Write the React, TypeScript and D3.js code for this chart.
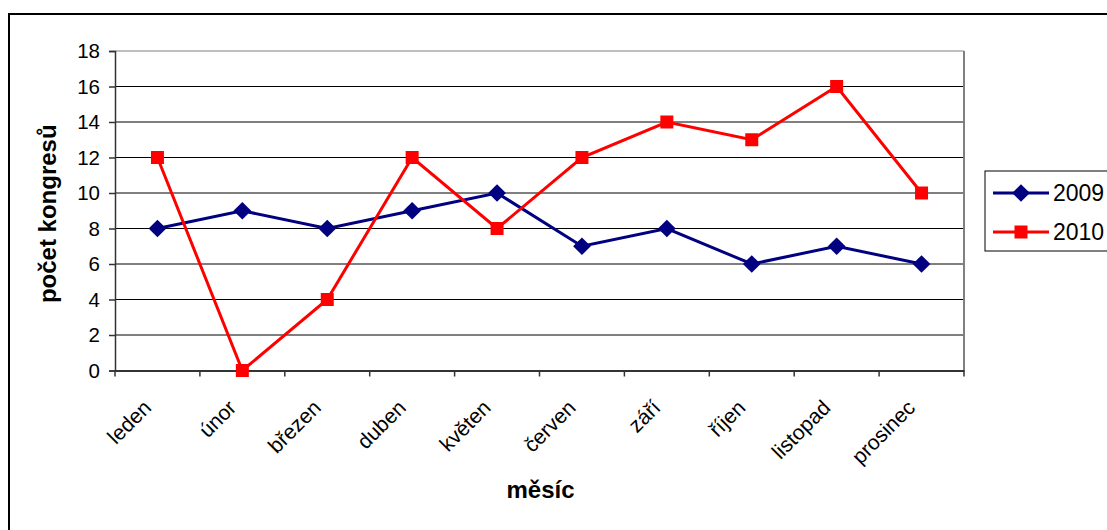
import { useEffect, useRef } from 'react';
import * as d3 from 'd3';

const MONTHS = ['leden', 'únor', 'březen', 'duben', 'květen', 'červen', 'září', 'říjen', 'listopad', 'prosinec'];
const SERIES_2009 = [8, 9, 8, 9, 10, 7, 8, 6, 7, 6];
const SERIES_2010 = [12, 0, 4, 12, 8, 12, 14, 13, 16, 10];
const Y_TICKS = [0, 2, 4, 6, 8, 10, 12, 14, 16, 18];

const FONT = "'Liberation Sans', Arial, sans-serif";
const NAVY = '#000080';
const RED = '#FF0000';

export default function App() {
  const svgRef = useRef<SVGSVGElement>(null);

  useEffect(() => {
    const el = svgRef.current;
    if (!el) return;
    const svg = d3.select(el);
    svg.selectAll('*').remove();

    const W = 1107;
    const H = 530;
    const plot = { left: 115, top: 51, right: 964, bottom: 370.5 };

    // outer chart frame
    svg.append('rect')
      .attr('x', 9).attr('y', 14)
      .attr('width', W + 20).attr('height', H + 20)
      .attr('fill', '#fff').attr('stroke', '#000').attr('stroke-width', 2);

    const x = d3.scaleBand().domain(MONTHS).range([plot.left, plot.right]);
    const y = d3.scaleLinear().domain([0, 18]).range([plot.bottom, plot.top]);
    const cx = (m: string) => (x(m) || 0) + x.bandwidth() / 2;

    // grid lines
    svg.append('g').selectAll('line').data(Y_TICKS.filter((t) => t > 0)).join('line')
      .attr('x1', plot.left).attr('x2', plot.right)
      .attr('y1', (d) => y(d)).attr('y2', (d) => y(d))
      .attr('stroke', (d) => (d === 18 ? '#808080' : '#000'))
      .attr('stroke-width', 1);

    // plot area right border
    svg.append('line')
      .attr('x1', plot.right).attr('x2', plot.right)
      .attr('y1', plot.top).attr('y2', plot.bottom)
      .attr('stroke', '#808080').attr('stroke-width', 2);

    // y axis
    const yAxis = svg.append('g').attr('transform', `translate(${plot.left},0)`)
      .call(d3.axisLeft(y).tickValues(Y_TICKS).tickSize(6).tickPadding(9));
    yAxis.select('.domain').attr('stroke', '#333').attr('stroke-width', 1.5);
    yAxis.selectAll('.tick line').attr('stroke', '#333').attr('stroke-width', 1.5);
    yAxis.selectAll('text').attr('fill', '#000').attr('font-size', '20.5px').attr('font-family', FONT);

    // x axis
    const xAxis = svg.append('g').attr('transform', `translate(0,${plot.bottom})`)
      .call(d3.axisBottom(x).tickSize(0).tickFormat(() => ''));
    xAxis.select('.domain').attr('stroke', '#333').attr('stroke-width', 2);
    xAxis.selectAll('.tick').remove();
    const edges = MONTHS.map((m) => x(m) || 0).concat([plot.right]);
    svg.append('g').selectAll('line').data(edges).join('line')
      .attr('x1', (d) => d).attr('x2', (d) => d)
      .attr('y1', plot.bottom).attr('y2', plot.bottom + 6)
      .attr('stroke', '#333').attr('stroke-width', 1.5);

    svg.append('g').selectAll('text').data(MONTHS).join('text')
      .attr('transform', (d) => `translate(${cx(d) - 5},409) rotate(-45)`)
      .attr('text-anchor', 'end')
      .attr('font-size', '21px')
      .attr('font-family', FONT)
      .attr('fill', '#000')
      .text((d) => d);

    // axis titles
    svg.append('text')
      .attr('transform', `translate(56,${(plot.top + plot.bottom) / 2 + 3}) rotate(-90)`)
      .attr('text-anchor', 'middle')
      .attr('font-size', '24px').attr('font-weight', 'bold').attr('font-family', FONT)
      .text('počet kongresů');
    svg.append('text')
      .attr('x', (plot.left + plot.right) / 2 + 1).attr('y', 498)
      .attr('text-anchor', 'middle')
      .attr('font-size', '24px').attr('font-weight', 'bold').attr('font-family', FONT)
      .text('měsíc');

    const line = d3.line<number>().x((_, i) => cx(MONTHS[i])).y((d) => y(d));
    const diamond = d3.symbol().type(d3.symbolDiamond2).size(200);
    const square = d3.symbol().type(d3.symbolSquare).size(169);

    svg.append('path').datum(SERIES_2009).attr('d', line)
      .attr('fill', 'none').attr('stroke', NAVY).attr('stroke-width', 3);
    svg.append('g').selectAll('path').data(SERIES_2009).join('path')
      .attr('d', diamond)
      .attr('transform', (d, i) => `translate(${cx(MONTHS[i])},${y(d)})`)
      .attr('fill', NAVY);

    svg.append('path').datum(SERIES_2010).attr('d', line)
      .attr('fill', 'none').attr('stroke', RED).attr('stroke-width', 3);
    svg.append('g').selectAll('path').data(SERIES_2010).join('path')
      .attr('d', square)
      .attr('transform', (d, i) => `translate(${cx(MONTHS[i])},${y(d)})`)
      .attr('fill', RED);

    // legend
    const lg = svg.append('g');
    lg.append('rect')
      .attr('x', 985).attr('y', 171).attr('width', 140).attr('height', 80)
      .attr('fill', '#fff').attr('stroke', '#000').attr('stroke-width', 1);
    const items = [
      { label: '2009', color: NAVY, sym: diamond, yy: 193 },
      { label: '2010', color: RED, sym: square, yy: 232 },
    ];
    items.forEach((it) => {
      lg.append('line')
        .attr('x1', 993).attr('x2', 1049).attr('y1', it.yy).attr('y2', it.yy)
        .attr('stroke', it.color).attr('stroke-width', 3);
      lg.append('path').attr('d', it.sym)
        .attr('transform', `translate(1021,${it.yy})`).attr('fill', it.color);
      lg.append('text')
        .attr('x', 1053).attr('y', it.yy + 8)
        .attr('font-size', '23px').attr('font-family', FONT)
        .text(it.label);
    });
  }, []);

  return (
    <svg
      ref={svgRef}
      width={1107}
      height={530}
      style={{ position: 'absolute', left: 0, top: 0, background: '#fff' }}
    />
  );
}
